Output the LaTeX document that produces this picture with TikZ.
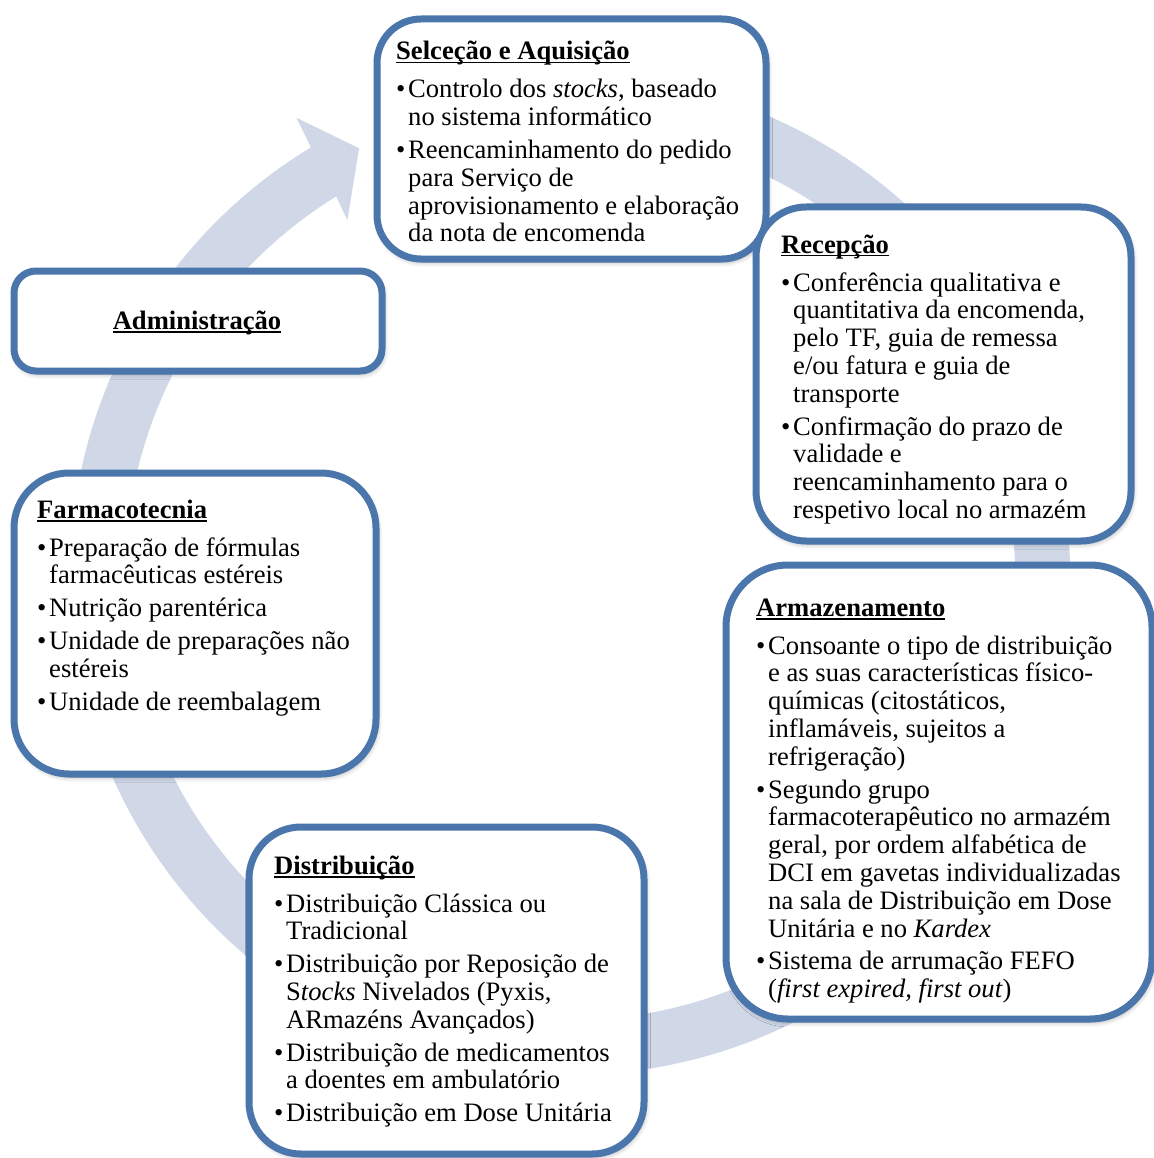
\documentclass[tikz,border=0pt]{standalone}
\usepackage{fontspec}
\setmainfont{Liberation Serif}
\usetikzlibrary{shadows.blur}
\definecolor{ringc}{HTML}{D0D8E8}
\definecolor{boxc}{HTML}{4A76AC}
\newcommand{\hdx}[1]{\setbox0\hbox{\textbf{#1}}\rlap{\rule[-3.5pt]{\wd0}{1.3pt}}\box0}
\newcommand{\ttl}[1]{\noindent\hdx{#1}\par\vspace{5.2pt}}
\newcommand{\bitem}{\par\vspace{5pt}\noindent\hangindent=12pt\hangafter=1\makebox[12pt][l]{\textbullet}}
\newcommand{\tb}[2]{\begin{minipage}[t]{#1}\raggedright #2\end{minipage}}
\tikzset{
  cbox/.style={draw=boxc, line width=7pt, fill=white, inner sep=0pt,
    blur shadow={shadow xshift=1.5pt, shadow yshift=-3pt, shadow blur radius=5pt, shadow opacity=35}},
  ctext/.style={anchor=base west, inner sep=0pt, font=\fontsize{26.6}{27.8}\selectfont},
}
\begin{document}
\begin{tikzpicture}[x=1pt,y=1pt]
\useasboundingbox (0,0) rectangle (1153,-1158);
% circular arrow
\begin{scope}[shift={(570,-575)}]
\fill[ringc] (100:500pt) arc[start angle=100, end angle=-238.8, radius=500pt]
  -- (-239.1:533pt) -- (-243.7:476pt) -- (-237.9:419pt) -- (-238.3:445pt)
  arc[start angle=-238.3, end angle=100, radius=445pt] -- cycle;
\end{scope}
% boxes
\node[cbox, rounded corners=44pt, minimum width=389pt, minimum height=240pt] (b1) at (571.5,-139) {};
\node[cbox, rounded corners=22pt, minimum width=368pt, minimum height=100pt] (b2) at (198,-321) {};
\node[cbox, rounded corners=50pt, minimum width=375pt, minimum height=334pt] (b3) at (943.5,-374) {};
\node[cbox, rounded corners=62pt, minimum width=426pt, minimum height=454pt] (b4) at (939,-792) {};
\node[cbox, rounded corners=55pt, minimum width=362pt, minimum height=301pt] (b5) at (195,-623.5) {};
\node[cbox, rounded corners=52pt, minimum width=395pt, minimum height=327pt] (b6) at (446.5,-990.5) {};
% texts
\node[ctext] (t1) at (396,-60) {\tb{360pt}{\ttl{Selceção e Aquisição}
\bitem Controlo dos \textit{stocks}, baseado\newline no sistema informático
\bitem Reencaminhamento do pedido\newline para Serviço de\newline aprovisionamento e elaboração\newline da nota de encomenda}};
\node[ctext, anchor=base] (t2) at (197,-329) {\hdx{Administração}};
\node[ctext] (t3) at (781,-253) {\tb{345pt}{\ttl{Recepção}
\bitem Conferência qualitativa e\newline quantitativa da encomenda,\newline pelo TF, guia de remessa\newline e/ou fatura e guia de\newline transporte
\bitem Confirmação do prazo de\newline validade e\newline reencaminhamento para o\newline respetivo local no armazém}};
\node[ctext] (t4) at (756,-616) {\tb{392pt}{\ttl{Armazenamento}
\bitem Consoante o tipo de distribuição\newline e as suas características físico-\newline químicas (citostáticos,\newline inflamáveis, sujeitos a\newline refrigeração)
\bitem Segundo grupo\newline farmacoterapêutico no armazém\newline geral, por ordem alfabética de\newline DCI em gavetas individualizadas\newline na sala de Distribuição em Dose\newline Unitária e no \textit{Kardex}
\bitem Sistema de arrumação FEFO\newline (\textit{first expired, first out})}};
\node[ctext] (t5) at (37,-518) {\tb{335pt}{\ttl{Farmacotecnia}
\bitem Preparação de fórmulas\newline farmacêuticas estéreis
\bitem Nutrição parentérica
\bitem Unidade de preparações não\newline estéreis
\bitem Unidade de reembalagem}};
\node[ctext] (t6) at (274,-874) {\tb{362pt}{\ttl{Distribuição}
\bitem Distribuição Clássica ou\newline Tradicional
\bitem Distribuição por Reposição de\newline S\textit{tocks} Nivelados (Pyxis,\newline ARmazéns Avançados)
\bitem Distribuição de medicamentos\newline a doentes em ambulatório
\bitem Distribuição em Dose Unitária}};
\end{tikzpicture}
\end{document}
